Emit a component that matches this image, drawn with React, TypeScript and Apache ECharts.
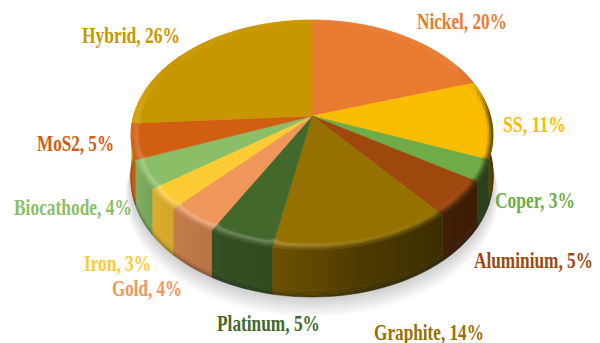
import React, { useEffect, useRef } from "react";
import * as echarts from "echarts";

// Electrode materials and their shares, clockwise from twelve o'clock.
const categories = ["Nickel", "SS", "Coper", "Aluminium", "Graphite", "Platinum", "Gold", "Iron", "Biocathode", "MoS2", "Hybrid"];
const shares = [20, 11, 3, 5, 14, 5, 4, 3, 4, 5, 26];
const sliceColors = ["#E97B31", "#FBBD00", "#6FAB46", "#9E480E", "#967100", "#43682B", "#EF965A", "#FDCB33", "#8BBF67", "#D05F12", "#C89700"];

// Label boxes: left edge, vertical middle, rendered width.
const labelLeft = [417, 503, 495, 474, 374, 217, 112, 84, 14, 37, 82];
const labelMid = [21, 124, 200, 260, 332, 323, 288, 263, 207, 143, 35];
const labelWidth = [90, 63, 80, 119, 110, 103, 70, 67, 118, 77, 98];

// Perspective disc: centre, axis scales and foreshortening strength.
const CX = 312;
const CY = 116;
const AX = 178.5;
const BY = 111.9;
const K = 0.165;
const FLAT_R = 0.955;
const LABEL_FONT = "bold 23px 'Liberation Serif'";

// Brightness of the outer wall by angle, light falling from the left.
const wallLight: [number, number][] = [[60, 0.35], [90, 0.35], [120, 0.38], [140, 0.4], [165, 0.5], [190, 0.72], [210, 0.78], [240, 0.88], [270, 1.08], [300, 1.08]];
const rimGlow: [number, number][] = [[60, 0], [130, 0], [165, 0.05], [190, 0.22], [240, 0.24], [270, 0.14], [300, 0.04]];

const lookup = (table: [number, number][], x: number) => {
  if (x <= table[0][0]) return table[0][1];
  for (let i = 1; i < table.length; i++) {
    if (x <= table[i][0]) {
      const [x0, y0] = table[i - 1];
      const [x1, y1] = table[i];
      return y0 + ((y1 - y0) * (x - x0)) / (x1 - x0);
    }
  }
  return table[table.length - 1][1];
};

const toRgb = (hex: string) => [1, 3, 5].map((i) => parseInt(hex.slice(i, i + 2), 16));
const css = (c: number[]) => `rgb(${c.map((v) => Math.max(0, Math.min(255, Math.round(v)))).join(",")})`;
const mix = (a: number[], b: number[], t: number) => a.map((v, i) => v + (b[i] - v) * t);
const WHITE = [255, 255, 255];

const wallDrop = (theta: number) => 44 - 3 * Math.cos((theta * Math.PI) / 180);

const project = (theta: number, r: number, drop = 0): number[] => {
  const a = (theta * Math.PI) / 180;
  const u = r * Math.sin(a);
  const v = -r * Math.cos(a);
  const w = 1 - K * v;
  return [CX + (AX * u) / w, CY + (BY * v) / w + drop];
};

const total = shares.reduce((s, v) => s + v, 0);
const sliceSpan = (index: number) => {
  const before = shares.slice(0, index).reduce((s, v) => s + v, 0);
  return [(before / total) * 360, ((before + shares[index]) / total) * 360];
};

const steps = (from: number, to: number, step: number) => {
  const n = Math.max(1, Math.ceil((to - from) / step));
  return Array.from({ length: n + 1 }, (_, i) => from + ((to - from) * i) / n);
};

// Outer corners of each slice's flat face are softened slightly.
const flatRadius = (theta: number, from: number, to: number) => {
  const d = Math.min(theta - from, to - theta);
  const c = Math.max(0, 1 - d / 2.5);
  return FLAT_R - 0.016 * c * c;
};

const wallColor = (base: number[], theta: number) => base.map((v) => v * lookup(wallLight, theta));

const rimColor = (base: number[], theta: number, s: number) => {
  const glow = mix(base, WHITE, lookup(rimGlow, theta));
  const wall = wallColor(base, theta);
  const lit = s < 0.35 ? mix(base, glow, s / 0.35) : mix(glow, wall, (s - 0.35) / 0.65);
  const facing = Math.max(0, Math.min(1, Math.min((theta - 72) / 18, (296 - theta) / 20)));
  return mix(base, lit, facing);
};

const poly = (points: number[][], fill: any, stroke: any = fill) => ({
  type: "polygon",
  shape: { points },
  style: { fill, stroke, lineWidth: 0.6 },
});

// Soft ground shadow: stacked translucent discs, each a little wider and lower.
const SHADOW_LAYERS = 12;
const renderShadow = () => {
  const arc = steps(60, 300, 3);
  const children = Array.from({ length: SHADOW_LAYERS }, (_, j) => {
    const layer = SHADOW_LAYERS - j;
    return {
      type: "polygon",
      shape: { points: arc.map((t) => project(t, 1 + layer * 0.0025, wallDrop(t) + layer * 1.25)) },
      style: { fill: "rgba(0,0,0,0.017)" },
    };
  });
  return { type: "group", children };
};

const wallBands = [[0, 0.86, 1], [0.86, 0.92, 0.95], [0.92, 0.97, 0.85], [0.97, 1, 0.72]];

// One wall strip per slice, shaded left to right by a gradient so the light varies smoothly.
const renderWall = (params: any) => {
  const i = params.dataIndex;
  const base = toRgb(sliceColors[i]);
  const [from, to] = sliceSpan(i);
  const lo = Math.max(from, 62);
  const hi = Math.min(to, 306);
  if (lo >= hi) return { type: "group", children: [] };
  const grid = steps(lo, hi, 2);
  const children: any[] = [];
  for (const [t0, t1, dim] of wallBands) {
    const upper = grid.map((t) => project(t, 1, wallDrop(t) * t0));
    const lower = grid.map((t) => project(t, 1, wallDrop(t) * t1)).reverse();
    const points = [...upper, ...lower];
    const xs = points.map((p) => p[0]);
    const xMin = Math.min(...xs);
    const xMax = Math.max(...xs);
    const stops = grid
      .map((t) => ({
        offset: (project(t, 1)[0] - xMin) / Math.max(1, xMax - xMin),
        color: css(wallColor(base, t).map((v) => v * dim)),
      }))
      .map((s) => ({ ...s, offset: Math.max(0, Math.min(1, s.offset)) }))
      .sort((a, b) => a.offset - b.offset);
    const fill = new echarts.graphic.LinearGradient(0, 0, 1, 0, stops);
    children.push({ type: "polygon", shape: { points }, style: { fill, stroke: fill, lineWidth: 0.5 } });
  }
  return { type: "group", children };
};

const rimStops = [0, 0.2, 0.4, 0.6, 0.8, 1];

const labelScale = (text: string, width: number) => {
  const ctx = document.createElement("canvas").getContext("2d") as CanvasRenderingContext2D;
  ctx.font = LABEL_FONT;
  return width / ctx.measureText(text).width;
};

const renderTop = (params: any, api: any) => {
  const i = params.dataIndex;
  const base = toRgb(sliceColors[i]);
  const [from, to] = sliceSpan(i);
  const grid = steps(from, to, 2);
  const radiusAt = (t: number, s: number) => {
    const rf = flatRadius(t, from, to);
    return rf + (1 - rf) * s;
  };
  const children: any[] = [];
  for (let g = 0; g < grid.length - 1; g++) {
    const a = grid[g];
    const b = grid[g + 1];
    const mid = (a + b) / 2;
    for (let k = 0; k < rimStops.length - 1; k++) {
      const s0 = rimStops[k];
      const s1 = rimStops[k + 1];
      children.push(
        poly(
          [project(a, radiusAt(a, s0)), project(b, radiusAt(b, s0)), project(b, radiusAt(b, s1)), project(a, radiusAt(a, s1))],
          css(rimColor(base, mid, (s0 + s1) / 2))
        )
      );
    }
  }
  children.push(poly([[CX, CY], ...grid.map((t) => project(t, radiusAt(t, 0)))], css(base)));

  const text = `${categories[i]}, ${api.value(0)}%`;
  children.push({
    type: "text",
    x: labelLeft[i],
    y: labelMid[i],
    scaleX: labelScale(text, labelWidth[i]),
    style: {
      text,
      x: 0,
      y: 0,
      fill: sliceColors[i],
      font: LABEL_FONT,
      textAlign: "left",
      textVerticalAlign: "middle",
    },
  });
  return { type: "group", children };
};

export default function App() {
  const ref = useRef<HTMLDivElement>(null);
  useEffect(() => {
    document.body.style.margin = "0";
    const chart = echarts.init(ref.current as HTMLDivElement, undefined, { renderer: "svg" });
    const data = shares.map((v) => [v]);
    chart.setOption({
      animation: false,
      backgroundColor: "#ffffff",
      series: [
        { type: "custom", coordinateSystem: "none", silent: true, z: 1, data: [[total]], renderItem: renderShadow },
        { type: "custom", coordinateSystem: "none", silent: true, z: 2, data, renderItem: renderWall },
        { type: "custom", coordinateSystem: "none", silent: true, z: 3, data, renderItem: renderTop },
      ],
    });
    return () => chart.dispose();
  }, []);
  return <div ref={ref} style={{ width: 600, height: 343 }} />;
}
